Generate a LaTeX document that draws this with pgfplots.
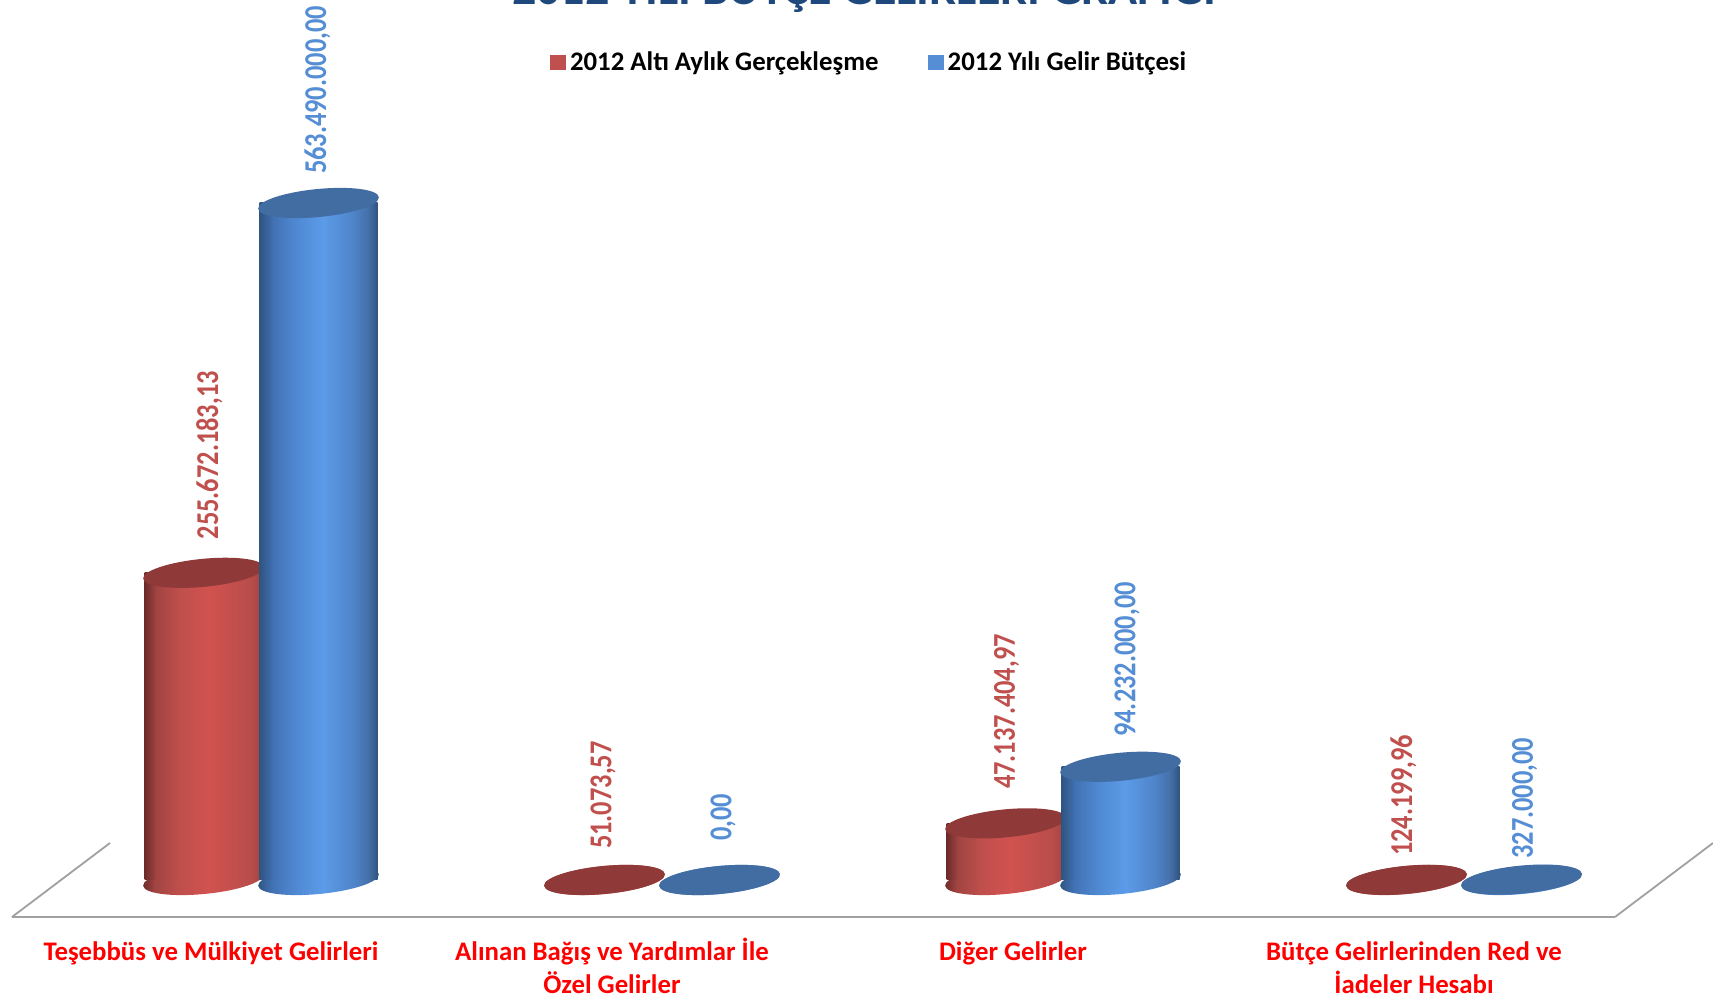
\documentclass[border=0pt]{standalone}
\usepackage{fontspec}
\setmainfont{Carlito}
\newfontfamily\lblfont[FakeStretch=0.83]{Carlito}
\usepackage{pgfplots}
\usepackage{pgfplotstable}
\pgfplotsset{compat=1.18}

% 1 px of the reference = 0.5pt here
\definecolor{redtop}{HTML}{8F3A38}
\definecolor{bluetop}{HTML}{426DA3}
\definecolor{redlbl}{HTML}{C0504D}
\definecolor{bluelbl}{HTML}{558ED5}
\definecolor{floorline}{HTML}{A0A0A0}
\definecolor{titleblue}{HTML}{1F497D}

\definecolor{ra}{HTML}{6B2B2A}\definecolor{rb}{HTML}{A14442}\definecolor{rc}{HTML}{BF4F4C}
\definecolor{rd}{HTML}{D1524F}\definecolor{re}{HTML}{B84D4A}
\definecolor{ba}{HTML}{2E5480}\definecolor{bb}{HTML}{4272B5}\definecolor{bc}{HTML}{4F88D1}
\definecolor{bd}{HTML}{5C9BE8}\definecolor{be}{HTML}{4E83C8}\definecolor{bf}{HTML}{456FA8}

\pgfdeclarehorizontalshading{redcyl}{100bp}{color(0bp)=(ra); color(25bp)=(ra); color(30bp)=(rb);
  color(40bp)=(rc); color(52bp)=(rd); color(70bp)=(re); color(75bp)=(rb); color(100bp)=(rb)}
\pgfdeclarehorizontalshading{bluecyl}{100bp}{color(0bp)=(ba); color(25bp)=(ba); color(31bp)=(bb);
  color(40bp)=(bc); color(52bp)=(bd); color(65bp)=(be); color(71bp)=(bf); color(75bp)=(ba); color(100bp)=(ba)}

\newcommand{\cylpath}{\pgfpathellipse{\pgfpointorigin}{\pgfpointpolar{5.5}{30.3pt}}{\pgfpointpolar{95.5}{7pt}}}
\pgfdeclareplotmark{cyltop}{\cylpath\pgfusepathqfill}
\pgfdeclareplotmark{redfoot}{\cylpath\pgfshadepath{redcyl}{0}\pgfusepath{discard}}
\pgfdeclareplotmark{bluefoot}{\cylpath\pgfshadepath{bluecyl}{0}\pgfusepath{discard}}
\newcommand{\fl}{\rule{0pt}{13pt}}

\pgfplotstableread{
x y label dx dy
0 255672183.13 255.672.183,13 5.8 33.5
1 51073.57 51.073,57 -1.3 31
2 47137404.97 47.137.404,97 1 34.5
3 124199.96 124.199,96 -3 24
}\redtable
\pgfplotstableread{
x y label dx dy
0 563490000 563.490.000,00 -1 29
1 0 0,00 3.5 39
2 94232000 94.232.000,00 6.5 30
3 327000 327.000,00 3 21
}\bluetable

\pgfplotsset{
  cylbody/.style={ybar, bar width=59pt, bar shift=0pt, draw=none, shade, forget plot},
  cylfoot/.style={only marks, forget plot},
  cyltop/.style={only marks, mark=cyltop, mark options={fill=#1top, draw=none}, forget plot,
    point meta=explicit symbolic,
    visualization depends on={\thisrow{dx}\as\dx},
    visualization depends on={\thisrow{dy}\as\dy},
    nodes near coords,
    nodes near coords style={xshift={0.5pt*\dx}, yshift={0.5pt*\dy}, rotate=90, anchor=west,
      inner sep=0pt, outer sep=0pt, font=\lblfont\fontsize{15.9pt}{16pt}\selectfont\bfseries, text=#1lbl}},
}

\begin{document}
\begin{tikzpicture}
\useasboundingbox (0,0) rectangle (856.5pt,500pt);
\begin{axis}[
  at={(0,0)}, anchor=south west,
  scale only axis, width=856.5pt, height=500pt,
  xmin=-0.6509, xmax=3.6209, ymin=-99.88e6, ymax=732.45e6,
  clip=false, clip marker paths=true,
  axis line style={draw=none},
  major tick length=0pt,
  ytick=\empty,
  xtick={0,1,2,3},
  xticklabels={\fl Teşebbüs ve Mülkiyet Gelirleri,
    {\fl Alınan Bağış ve Yardımlar İle\\Özel Gelirler},
    \fl Diğer Gelirler,
    {\fl Bütçe Gelirlerinden Red ve\\İadeler Hesabı}},
  xticklabel style={font=\fontsize{13.4pt}{16.4pt}\selectfont\bfseries, text=red, align=center,
    anchor=north, yshift=36.3pt, xshift=-25pt},
  title={2012 YILI BÜTÇE GELİRLERİ GRAFİĞİ},
  every axis title shift=0pt,
  title style={at={(0.5044,0.995)}, anchor=base, inner sep=0pt,
    font=\fontsize{24pt}{24pt}\selectfont\bfseries, text=titleblue},
  legend columns=2,
  legend cell align=left,
  legend style={at={(0.5080,0.9374)}, anchor=center, draw=none, fill=none, inner sep=0pt,
    font=\fontsize{13.4pt}{16pt}\selectfont\bfseries,
    /tikz/every even column/.style={column sep=22.7pt}},
  legend image code/.code={\fill[#1] (-1.5pt,-3.6pt) rectangle (6pt,3.6pt);},
]
% floor of the 3D box
\addplot[forget plot, floorline, line width=1.3pt] coordinates {(-0.6210,-30.8e6) (3.3765,-30.8e6)};
\addplot[forget plot, floorline, line width=0.9pt] coordinates {(-0.3766,30.8e6) (-0.6210,-30.8e6)};
\addplot[forget plot, floorline, line width=0.9pt] coordinates {(3.3765,-30.8e6) (3.6209,30.8e6)};

\addlegendimage{redlbl}\addlegendentry{2012 Altı Aylık Gerçekleşme}
\addlegendimage{bluelbl}\addlegendentry{2012 Yılı Gelir Bütçesi}

% red series, then blue over it; one plot per tall bar so each gets its own shading
\addplot[cylfoot, mark=redfoot] table[x expr=\thisrow{x}-0.1434, y expr=0] {\redtable};
\pgfplotsinvokeforeach{0,2}{
  \addplot[cylbody, shading=redcyl, restrict expr to domain={\coordindex}{#1:#1}]
    table[x expr=\thisrow{x}-0.1434, y=y] {\redtable};
}
\addplot[cyltop=red] table[x expr=\thisrow{x}-0.1434, y=y, meta=label] {\redtable};

\addplot[cylfoot, mark=bluefoot] table[x expr=\thisrow{x}+0.1434, y expr=0] {\bluetable};
\pgfplotsinvokeforeach{0,2}{
  \addplot[cylbody, shading=bluecyl, restrict expr to domain={\coordindex}{#1:#1}]
    table[x expr=\thisrow{x}+0.1434, y=y] {\bluetable};
}
\addplot[cyltop=blue] table[x expr=\thisrow{x}+0.1434, y=y, meta=label] {\bluetable};
\end{axis}
\end{tikzpicture}
\end{document}
